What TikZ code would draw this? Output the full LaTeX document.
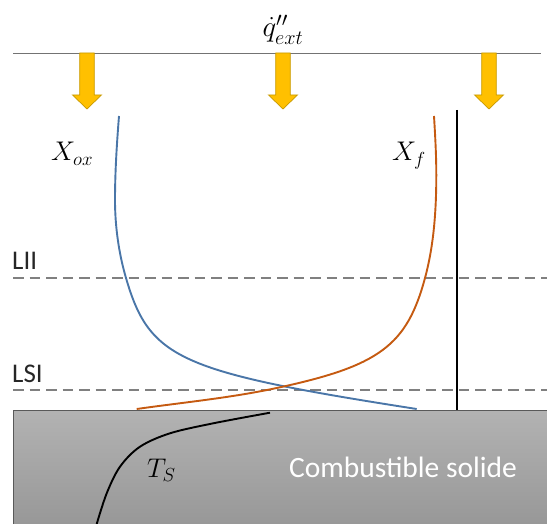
\RequirePackage{fix-cm}
\documentclass[tikz,border=0pt]{standalone}
\usepackage{fontspec}
\newfontfamily\calib{Carlito}
\definecolor{oxblue}{HTML}{4A76A8}
\definecolor{fuelor}{HTML}{C55A11}
\definecolor{fluxgold}{HTML}{FFC000}
\definecolor{fluxedge}{HTML}{C89A00}
\definecolor{dashgray}{HTML}{808080}
\definecolor{labgray}{HTML}{262626}
\tikzset{
  dashline/.style={draw=dashgray, line width=2.2pt, dash pattern=on 10.5pt off 6pt},
  curveline/.style={line width=1.9pt},
  lvl/.style={font=\calib\fontsize{27}{29}\selectfont, text=labgray, inner sep=0pt, anchor=base west},
  mathlab/.style={font=\fontsize{27}{30}\selectfont, inner sep=0pt, anchor=base west},
  fluxarrow/.pic={
    \path[fill=fluxgold, draw=fluxedge, line width=0.7pt]
      (-7.3,53) -- (7.3,53) -- (7.3,95) -- (14.5,95) -- (0,109) -- (-14.5,95) -- (-7.3,95) -- cycle;
  }
}
\begin{document}
\begin{tikzpicture}[x=1pt, y=-1pt]
\useasboundingbox (0,0) rectangle (547,524);
% solid
\shade[top color=black!30, bottom color=black!41] (13,410) rectangle (547,530);
\draw[draw=black!65, line width=0.8pt] (547,410) -- (13,410) -- (13,530);
% top line
\coordinate (tl) at (13,53);
\coordinate (tr) at (541,53);
\draw[draw=black!55, line width=0.8pt] (tl) -- (tr);
\node[font=\fontsize{29}{31}\selectfont, inner sep=0pt, anchor=base] (q) at (283,37) {$\dot{q}''_{ext}$};
% flux arrows
\pic at (87,0) {fluxarrow};
\pic at (283,0) {fluxarrow};
\pic at (489,0) {fluxarrow};
% dashed levels
\coordinate (liiL) at (13,278);
\coordinate (liiR) at (547,278);
\coordinate (lsiL) at (13,390);
\coordinate (lsiR) at (547,390);
\draw[dashline] (liiL) -- (liiR);
\draw[dashline] (lsiL) -- (lsiR);
\node[lvl] (lii) at (12,270) {LII};
\node[lvl] (lsi) at (12,382) {LSI};
% vertical line
\coordinate (vt) at (457,110);
\coordinate (vb) at (457,410);
\draw[line width=1.8pt] (vt) -- (vb);
% X_ox curve
\coordinate (b0) at (119,116);
\coordinate (b1) at (115,200);
\coordinate (b2) at (126,278);
\coordinate (b4) at (416.7,409);
\draw[curveline, oxblue] (b0) .. controls (116.8,144) and (115,172) .. (b1)
  .. controls (115,226) and (118.7,253) .. (b2)
  .. controls (149.6,358.9) and (178.6,371.9) .. (b4);
% X_f curve
\coordinate (f0) at (434,116);
\coordinate (f1) at (436.3,175);
\coordinate (f2) at (425,278);
\coordinate (fx) at (276.7,388);
\coordinate (f4) at (136.7,409);
\draw[curveline, fuelor] (f0) .. controls (435.2,136) and (436.3,155) .. (f1)
  .. controls (436.3,209.5) and (434,244.7) .. (f2)
  .. controls (406.8,345.6) and (379.4,366) .. (fx)
  .. controls (230.7,397.9) and (183.2,402.4) .. (f4);
% T_S curve
\draw[curveline, black] plot[smooth, tension=0.55] coordinates {
  (270,412.7) (213.3,423.3) (170,433.3) (140,446.7) (120,466.7) (106.7,493.3) (96.7,524)};
% labels
\node[mathlab] (xox) at (51,161) {$X_{ox}$};
\node[mathlab] (xf) at (392,161) {$X_f$};
\node[mathlab] (ts) at (147,477) {$T_S$};
\node[font=\calib\fontsize{29.5}{31}\selectfont, text=white, inner sep=0pt, anchor=base] (sol) at (403,477) {Combustible solide};
\end{tikzpicture}
\end{document}
